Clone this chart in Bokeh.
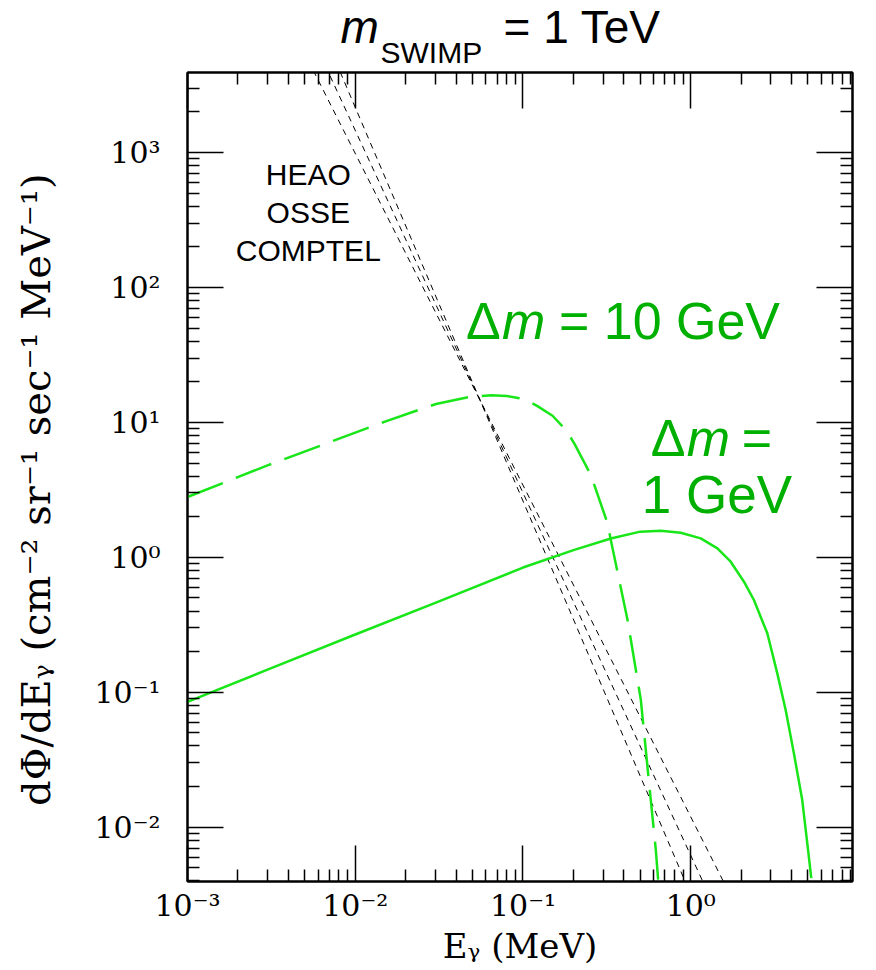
from bokeh.plotting import figure
from bokeh.models import Range1d, LogAxis, FixedTicker
from bokeh.layouts import column
from bokeh.core.properties import value
from bokeh.embed import file_html
from bokeh.resources import INLINE

# ---------------- data ----------------
energy_dm1 = [0.001, 0.003, 0.01, 0.03, 0.1, 0.2, 0.334, 0.5, 0.663, 0.872, 1.147,
              1.442, 1.73, 2.076, 2.38, 2.86, 3.28, 3.68, 4.12, 4.62, 4.99, 5.23]
flux_dm1 = [0.085, 0.147, 0.268, 0.46, 0.84, 1.13, 1.38, 1.55, 1.574, 1.52, 1.383,
            1.166, 0.928, 0.660, 0.483, 0.2735, 0.138, 0.074, 0.0353, 0.0159, 0.0070, 0.0042]

energy_dm10 = [0.001, 0.003, 0.0149, 0.0303, 0.049, 0.0645, 0.08, 0.102, 0.122, 0.15,
               0.18, 0.202, 0.254, 0.319, 0.334, 0.42, 0.504, 0.562, 0.619, 0.64]
flux_dm10 = [2.8, 4.8, 10.1, 13.7, 15.5, 15.9, 15.7, 14.9, 13.2, 11.2,
             8.8, 7.0, 4.07, 1.79, 1.34, 0.343, 0.088, 0.0224, 0.0068, 0.004]

bg_energy = [0.004, 2.0]
bg_flux_a = [9360.0, 2.17e-3]
bg_flux_b = [17100.0, 9.6e-4]
bg_flux_c = [31300.0, 4.19e-4]

x_ticks = [1e-3, 1e-2, 1e-1, 1e0]
x_tick_labels = ["10⁻³", "10⁻²", "10⁻¹", "10⁰"]
y_ticks = [1e-2, 1e-1, 1e0, 1e1, 1e2, 1e3]
y_tick_labels = ["10⁻²", "10⁻¹", "10⁰", "10¹", "10²", "10³"]

# annotation texts and their anchor positions (data units)
instrument_names = ["HEAO", "OSSE", "COMPTEL"]
instrument_x = [0.00525, 0.00525, 0.00525]
instrument_y = [690.0, 361.0, 189.0]

LINE_GREEN = "#19e619"
TEXT_GREEN = "#00b000"

x_minor = [m * 10.0 ** k for k in range(-3, 1) for m in range(2, 10)]
y_minor = [m * 10.0 ** k for k in range(-3, 4) for m in range(2, 10)]

# ---------------- title strip ----------------
TITLE_H = 68
tfig = figure(width=868, height=TITLE_H, x_range=Range1d(187, 852), y_range=Range1d(TITLE_H, 0),
              x_axis_location=None, y_axis_location=None, output_backend="svg",
              toolbar_location=None, min_border=0)
tfig.xgrid.visible = False
tfig.ygrid.visible = False
tfig.outline_line_color = None
tfig.text(x=[340], y=[26], text=["m"], text_font=value("Liberation Sans"),
          text_font_size="46px", text_font_style="italic", text_color="black",
          text_baseline="alphabetic")
tfig.text(x=[380], y=[52], text=["SWIMP"], text_font=value("Liberation Sans"),
          text_font_size="30px", text_color="black", text_baseline="alphabetic")
tfig.text(x=[503], y=[26], text=["= 1 TeV"], text_font=value("Liberation Sans"),
          text_font_size="46px", text_color="black", text_baseline="alphabetic")

# ---------------- main plot ----------------
p = figure(width=868, height=900, x_axis_type="log", y_axis_type="log",
           x_range=Range1d(1e-3, 9.21), y_range=Range1d(3.96e-3, 3917),
           output_backend="svg", toolbar_location=None,
           min_border_left=187, min_border_right=16,
           min_border_top=4, min_border_bottom=87)
p.xgrid.visible = False
p.ygrid.visible = False
p.outline_line_color = "black"
p.outline_line_width = 2
p.outline_line_alpha = 1.0


def style_axis(ax, ticks, minor, labels, show):
    ax.ticker = FixedTicker(ticks=ticks, minor_ticks=minor)
    ax.major_tick_in = 36
    ax.major_tick_out = 0
    ax.minor_tick_in = 12
    ax.minor_tick_out = 0
    ax.major_tick_line_width = 1.5
    ax.minor_tick_line_width = 1.5
    ax.major_tick_line_color = "black"
    ax.minor_tick_line_color = "black"
    ax.axis_line_width = 2
    ax.axis_line_color = "black"
    ax.major_label_text_font = "DejaVu Serif"
    ax.major_label_text_color = "black"
    if show:
        ax.major_label_overrides = {t: l for t, l in zip(ticks, labels)}
        ax.major_label_text_font_size = "30px"
    else:
        ax.major_label_overrides = {t: "" for t in ticks}
        ax.major_label_text_font_size = "1px"
        ax.major_label_standoff = 0


xa = p.xaxis[0]
ya = p.yaxis[0]
style_axis(xa, x_ticks, x_minor, x_tick_labels, True)
style_axis(ya, y_ticks, y_minor, y_tick_labels, True)
xa.major_label_standoff = 6
ya.major_label_standoff = 27
xa.axis_label = "Eᵧ (MeV)"
ya.axis_label = "dΦ/dEᵧ  (cm⁻² sr⁻¹ sec⁻¹  MeV⁻¹)"
for ax in (xa, ya):
    ax.axis_label_text_font = "DejaVu Serif"
    ax.axis_label_text_font_style = "normal"
    ax.axis_label_text_color = "black"
xa.axis_label_text_font_size = "34px"
ya.axis_label_text_font_size = "40px"
xa.axis_label_standoff = 0
ya.axis_label_standoff = 32

top_ax = LogAxis()
right_ax = LogAxis()
style_axis(top_ax, x_ticks, x_minor, x_tick_labels, False)
style_axis(right_ax, y_ticks, y_minor, y_tick_labels, False)
p.add_layout(top_ax, "above")
p.add_layout(right_ax, "right")

# background (HEAO / OSSE / COMPTEL) fits
for bf in (bg_flux_a, bg_flux_b, bg_flux_c):
    p.line(bg_energy, bf, line_color="black", line_width=1, line_dash="6 5")

# SWIMP curves
p.line(energy_dm10, flux_dm10, line_color=LINE_GREEN, line_width=2.5, line_dash="38 14")
p.line(energy_dm1, flux_dm1, line_color=LINE_GREEN, line_width=2.5)

# instrument names
p.text(x=instrument_x, y=instrument_y, text=instrument_names,
       text_font=value("Liberation Sans"), text_font_size="30px", text_color="black",
       text_align="center", text_baseline="alphabetic")


def green_text(x, y, txt, size="52px", style="normal"):
    p.text(x=[x], y=[y], text=[txt], text_font=value("Liberation Sans"),
           text_font_size=size, text_font_style=style, text_color=TEXT_GREEN,
           text_align="left", text_baseline="alphabetic")


# Delta m = 10 GeV
green_text(0.0458, 56.3, "Δ")
green_text(0.0750, 56.3, "m", style="italic")
green_text(0.1637, 56.3, "= 10 GeV")
# Delta m = 1 GeV
green_text(0.578, 7.65, "Δ")
green_text(0.947, 7.65, "m", style="italic")
green_text(2.012, 7.65, "=")
green_text(0.511, 2.94, "1 GeV", size="53px")

layout = column(tfig, p, spacing=0)
open("out.html", "w").write(file_html(layout, INLINE))
